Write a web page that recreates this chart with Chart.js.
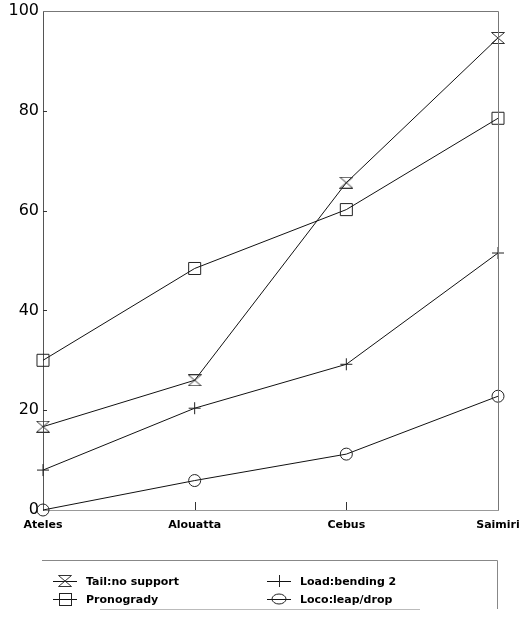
<!DOCTYPE html>
<html>
<head>
<meta charset="utf-8">
<script src="https://cdn.jsdelivr.net/npm/chart.js@4.4.1/dist/chart.umd.min.js"></script>
<style>
  html, body { margin: 0; padding: 0; background: #fff; }
  #wrap { width: 521px; height: 617px; }
</style>
</head>
<body>
<div id="wrap"><canvas id="c" width="521" height="617"></canvas></div>
<script>
// Genera on the x axis
const genera = ['Ateles', 'Alouatta', 'Cebus', 'Saimiri'];

// Series values (percent)
const tailNoSupport = [16.7, 26.0, 65.6, 94.6];
const pronogrady    = [30.0, 48.4, 60.2, 78.5];
const loadBending2  = [8.0, 20.4, 29.2, 51.5];
const locoLeapDrop  = [0.0, 5.9, 11.2, 22.8];

// Series names and y tick values
const seriesNames = ['Tail:no support', 'Pronogrady', 'Load:bending 2', 'Loco:leap/drop'];
const yTicks = [0, 20, 40, 60, 80, 100];

// Hourglass marker (two opposed triangles) drawn onto a small canvas
function makeHourglass(w, h) {
  const cv = document.createElement('canvas');
  cv.width = w; cv.height = h;
  const g = cv.getContext('2d');
  g.strokeStyle = '#333';
  g.lineWidth = 1;
  g.beginPath();
  g.moveTo(0.5, 0.5); g.lineTo(w - 0.5, 0.5); g.lineTo(0.5, h - 0.5); g.lineTo(w - 0.5, h - 0.5); g.closePath();
  g.stroke();
  return cv;
}
const hourglass = makeHourglass(14, 12);

const AXIS_FONT = 'DejaVu Sans';

function series(label, data, style, radius) {
  return {
    label, data,
    borderColor: '#111', borderWidth: 1,
    pointStyle: style, pointRadius: radius, pointHoverRadius: radius,
    pointBorderColor: '#222', pointBorderWidth: 1,
    pointBackgroundColor: 'rgba(0,0,0,0)',
    backgroundColor: 'rgba(0,0,0,0)',
    tension: 0, fill: false, clip: false
  };
}

// Frame (top and right), inner tick marks and the legend box
const decorations = {
  id: 'decorations',
  afterDraw(chart) {
    const { ctx, chartArea: a, scales } = chart;
    ctx.save();
    ctx.lineWidth = 1;
    ctx.strokeStyle = '#777';
    ctx.beginPath();
    ctx.moveTo(a.left, a.top + 0.5); ctx.lineTo(a.right + 0.5, a.top + 0.5);
    ctx.lineTo(a.right + 0.5, a.bottom);
    ctx.stroke();

    // y ticks pointing inwards
    ctx.strokeStyle = '#333';
    ctx.beginPath();
    yTicks.forEach(v => {
      if (v === 0 || v === 100) return;
      const y = Math.round(scales.y.getPixelForValue(v)) + 0.5;
      ctx.moveTo(a.left, y); ctx.lineTo(a.left + 4, y);
    });
    // x ticks pointing upwards for inner categories
    genera.forEach((g, i) => {
      if (i === 0 || i === genera.length - 1) return;
      const x = Math.round(scales.x.getPixelForValue(i)) + 0.5;
      ctx.moveTo(x, a.bottom); ctx.lineTo(x, a.bottom - 8);
    });
    ctx.stroke();

    // legend frame: top and right edges, faint partial bottom edge
    const box = { left: 42, top: 560, right: 497, bottom: 609 };
    ctx.strokeStyle = '#888';
    ctx.beginPath();
    ctx.moveTo(box.left, box.top + 0.5); ctx.lineTo(box.right + 0.5, box.top + 0.5);
    ctx.lineTo(box.right + 0.5, box.bottom);
    ctx.stroke();
    ctx.strokeStyle = '#bbb';
    ctx.beginPath();
    ctx.moveTo(100, box.bottom + 0.5); ctx.lineTo(420, box.bottom + 0.5);
    ctx.stroke();

    const slots = [
      { x: 65, y: 581 }, { x: 65, y: 599 },
      { x: 279, y: 581 }, { x: 279, y: 599 }
    ];
    ctx.font = 'bold 11px ' + AXIS_FONT;
    ctx.textBaseline = 'middle';
    ctx.textAlign = 'left';
    chart.data.datasets.forEach((ds, i) => {
      const s = slots[i];
      ctx.strokeStyle = '#111';
      ctx.beginPath();
      ctx.moveTo(s.x - 12, s.y + 0.5); ctx.lineTo(s.x + 12, s.y + 0.5);
      ctx.stroke();
      ctx.strokeStyle = '#222';
      const r = ds.pointRadius;
      ctx.beginPath();
      if (ds.pointStyle instanceof HTMLCanvasElement) {
        const im = ds.pointStyle;
        ctx.drawImage(im, Math.round(s.x - im.width / 2), Math.round(s.y - im.height / 2));
      } else if (ds.pointStyle === 'rect') {
        const h = r * Math.SQRT1_2;
        ctx.strokeRect(Math.round(s.x - h) + 0.5, Math.round(s.y - h) + 0.5, Math.round(2 * h), Math.round(2 * h));
      } else if (ds.pointStyle === 'cross') {
        ctx.moveTo(s.x + 0.5, s.y - r); ctx.lineTo(s.x + 0.5, s.y + r);
        ctx.stroke();
      } else if (ds.pointStyle === 'circle') {
        ctx.ellipse(s.x, s.y, r + 1, r - 1, 0, 0, Math.PI * 2);
        ctx.stroke();
      }
      ctx.fillStyle = '#000';
      ctx.fillText(ds.label, s.x + 21, s.y + 1);
    });
    ctx.restore();
  }
};

new Chart(document.getElementById('c'), {
  type: 'line',
  data: {
    labels: genera,
    datasets: [
      series(seriesNames[0], tailNoSupport, hourglass, 7),
      series(seriesNames[1], pronogrady, 'rect', 8.5),
      series(seriesNames[2], loadBending2, 'cross', 6),
      series(seriesNames[3], locoLeapDrop, 'circle', 6)
    ]
  },
  options: {
    responsive: false,
    animation: false,
    devicePixelRatio: 1,
    layout: { padding: { top: 11, right: 23, bottom: 77, left: 0 } },
    plugins: { legend: { display: false }, tooltip: { enabled: false } },
    scales: {
      x: {
        type: 'category',
        offset: false,
        grid: { display: false, drawTicks: false },
        border: { display: true, color: '#999', width: 1 },
        ticks: {
          autoSkip: false, maxRotation: 0, minRotation: 0, padding: 9,
          color: '#000', font: { family: AXIS_FONT, size: 11, weight: 'bold' }
        },
        afterFit(s) { s.height = 30; s.paddingLeft = 0; s.paddingRight = 0; }
      },
      y: {
        min: 0, max: 100,
        grid: { display: false, drawTicks: false },
        border: { display: true, color: '#555', width: 1 },
        afterBuildTicks(s) { s.ticks = yTicks.map(v => ({ value: v })); },
        ticks: {
          padding: 4, color: '#000',
          font: { family: AXIS_FONT, size: 16 }
        },
        afterFit(s) { s.width = 43; s.paddingTop = 0; s.paddingBottom = 0; }
      }
    }
  },
  plugins: [decorations]
});
</script>
</body>
</html>
